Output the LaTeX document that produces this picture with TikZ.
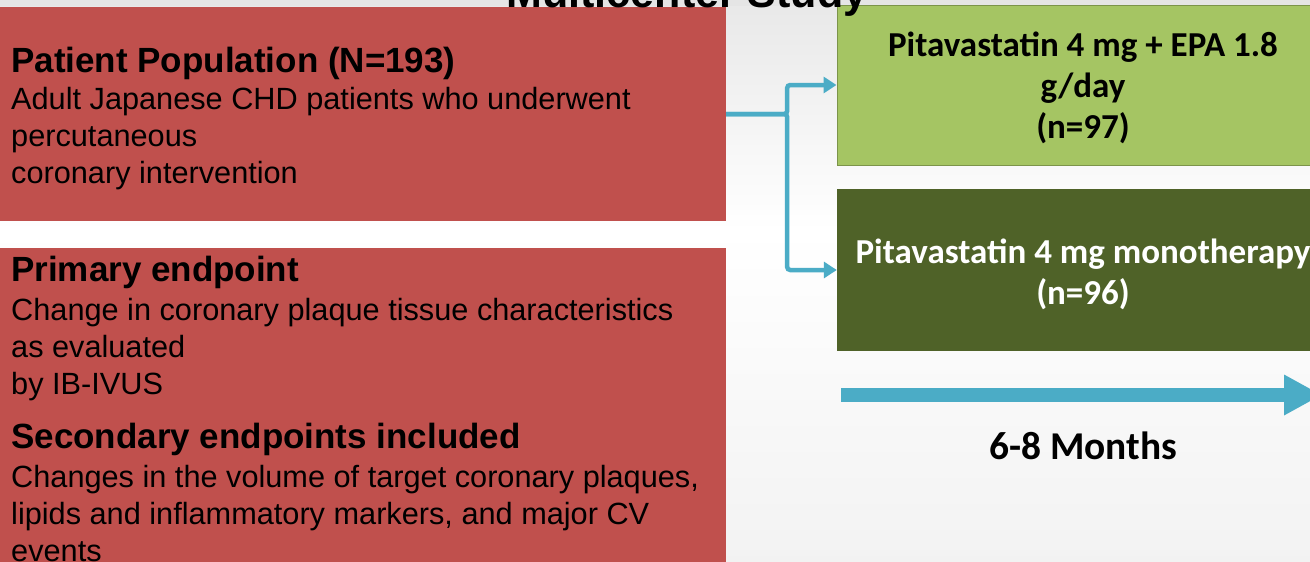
\documentclass[tikz,border=0pt]{standalone}
\usepackage{fontspec}
\setmainfont{Liberation Sans}
\newfontfamily\calib{Carlito}
\usetikzlibrary{arrows.meta}
\definecolor{boxred}{HTML}{C0504D}
\definecolor{armlight}{HTML}{A5C563}
\definecolor{armdark}{HTML}{4F6228}
\definecolor{flowblue}{HTML}{4BACC6}
\tikzset{
  redbox/.style={fill=boxred, inner sep=0pt, minimum width=726pt},
  armbox/.style={inner sep=0pt, minimum width=492pt},
  armtxt/.style={align=center, inner sep=0pt, font=\calib\bfseries\fontsize{35}{41}\selectfont},
  headtxt/.style={font=\bfseries\fontsize{35}{42}\selectfont, anchor=base west, inner sep=0pt},
  bodytxt/.style={font=\fontsize{30.7}{37}\selectfont, anchor=base west, inner sep=0pt},
  flow/.style={flowblue, line width=4.5pt, rounded corners=3pt, -{Triangle[length=13pt,width=16pt]}}
}
\begin{document}
\begin{tikzpicture}[x=1pt,y=-1pt]
  \path[use as bounding box] (0,0) rectangle (1310,562);
  \clip (0,0) rectangle (1310,562);
  \shade[top color=black!9, bottom color=white] (0,0) rectangle (1310,230);
  \shade[top color=white, bottom color=black!5] (0,230) rectangle (1310,562);
  \fill[black!10] (0,0) rectangle (1310,6);
  % left column
  \node[redbox, minimum height=214pt] (pop) at (363,114) {};
  \node[redbox, minimum height=322pt] (ends) at (363,409) {};
  \node[headtxt] (pophead) at (11,72) {Patient Population (N=193)};
  \foreach \ln [count=\i] in {Adult Japanese CHD patients who underwent, percutaneous, coronary intervention}
    \node[bodytxt] (poptxt\i) at (11,{109+37*(\i-1)}) {\ln};
  \node[headtxt] (primhead) at (11,281) {Primary endpoint};
  \foreach \ln [count=\i] in {Change in coronary plaque tissue characteristics, as evaluated, by IB-IVUS}
    \node[bodytxt] (primtxt\i) at (11,{320+37*(\i-1)}) {\ln};
  \node[headtxt] (sechead) at (11,448) {Secondary endpoints included};
  \foreach \ln [count=\i] in {{Changes in the volume of target coronary plaques,}, {lipids and inflammatory markers, and major CV}, events}
    \node[bodytxt] (sectxt\i) at (11,{487+37*(\i-1)}) {\ln};
  % treatment arms
  \node[armbox, fill=armlight, draw=armlight!75!black, line width=1pt, minimum height=160pt] (armA) at (1083,85) {};
  \node[armbox, fill=armdark, minimum height=162pt] (armB) at (1083,270) {};
  \node[armtxt] (armAtxt) at ([yshift=-3pt]armA.center) {Pitavastatin 4 mg + EPA 1.8\\g/day\\(n=97)};
  \node[armtxt, text=white] (armBtxt) at ([yshift=-4pt]armB.center) {Pitavastatin 4 mg monotherapy\\(n=96)};
  \draw[flow] (pop.east) -- ++(61,0) |- (armA.west);
  \draw[flow] (pop.east) -- ++(61,0) |- (armB.west);
  % follow-up
  \coordinate (tstart) at (841,395);
  \coordinate (tend) at (1322,395);
  \draw[flowblue, line width=14pt, -{Triangle[length=38pt,width=38pt]}] (tstart) -- (tend);
  \node[font=\calib\bfseries\fontsize{39.4}{46}\selectfont, anchor=base] (dur) at (1083,459) {6-8 Months};
  \node[font=\bfseries\fontsize{43}{50}\selectfont, anchor=base] (title) at (687,7) {Multicenter Study};
\end{tikzpicture}
\end{document}
